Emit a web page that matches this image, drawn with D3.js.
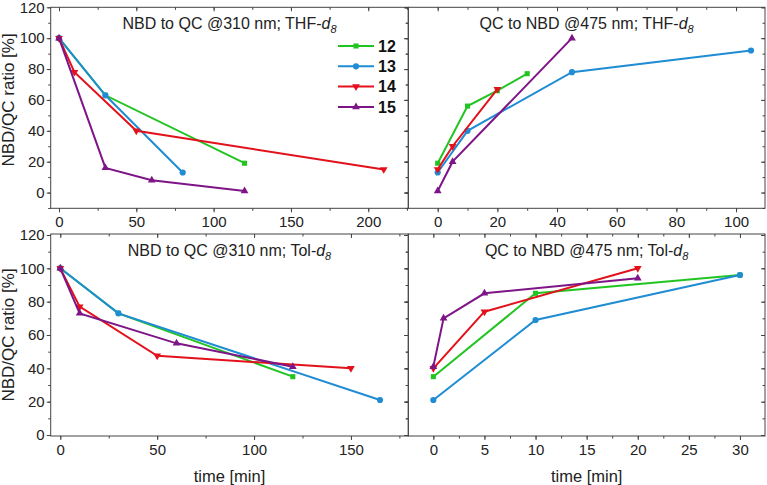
<!DOCTYPE html>
<html>
<head>
<meta charset="utf-8">
<script src="https://cdnjs.cloudflare.com/ajax/libs/d3/7.8.5/d3.min.js"></script>
<style>
  body { margin: 0; background: #fff; }
  svg { display: block; font-family: "Liberation Sans", Arial, sans-serif; }
  .tick text { font-size: 15px; fill: #222; }
  .tick line { stroke: #444; }
  .title, .axis_title { fill: #222; }
</style>
</head>
<body>
<svg id="chart" width="767" height="485"></svg>
<script>
// series names (compound numbers)
var seriesNames = ["12", "13", "14", "15"];

// NBD to QC @310 nm; THF-d8
var thf310Times  = [[0, 30, 120], [0, 30, 80], [0, 10, 50, 210], [0, 30, 60, 120]];
var thf310Values = [[100, 63, 19], [100, 63, 13], [100, 78, 40, 15], [100, 16, 8, 1]];
// QC to NBD @475 nm; THF-d8
var thf475Times  = [[0, 10, 20, 30], [0, 10, 45, 105], [0, 5, 20], [0, 5, 45]];
var thf475Values = [[19, 56, 66, 77], [13, 40, 78, 92], [15, 30, 67], [1, 20, 100]];
// NBD to QC @310 nm; Tol-d8
var tol310Times  = [[0, 30, 120], [0, 30, 165], [0, 10, 50, 150], [0, 10, 60, 120]];
var tol310Values = [[100, 73, 35], [100, 73, 21], [100, 77, 47.5, 40], [100, 73, 55, 41]];
// QC to NBD @475 nm; Tol-d8
var tol475Times  = [[0, 10, 30], [0, 10, 30], [0, 5, 20], [0, 1, 5, 20]];
var tol475Values = [[35, 85, 96], [21, 69, 96], [40, 74, 100], [41, 70, 85, 94]];

// tick labels
var thf310Ticks = [0, 50, 100, 150, 200];
var thf475Ticks = [0, 20, 40, 60, 80, 100];
var tol310Ticks = [0, 50, 100, 150];
var tol475Ticks = [0, 5, 10, 15, 20, 25, 30];
var yTicks = [0, 20, 40, 60, 80, 100, 120];

var colors = ["#22c422", "#1f8cd3", "#e2111b", "#7e1587"];
var shapes = [d3.symbolSquare, d3.symbolCircle, d3.symbolTriangle, d3.symbolTriangle];
var rotations = [0, 0, 180, 0];
var symSize = [26, 30, 26, 26];

var svg = d3.select("#chart");

// panel frames
var colX = [[50.7, 408.3], [408.3, 765]];
var rowY = [[7.3, 208.3], [234, 436]];

var panels = [
  {col: 0, row: 0, times: thf310Times, values: thf310Values, ticks: thf310Ticks, minor: 25,
   xdom: [-5.37, 225.9], ydom: [-10.2, 120], title: ["NBD to QC @310 nm; THF-", "d", "8"]},
  {col: 1, row: 0, times: thf475Times, values: thf475Values, ticks: thf475Ticks, minor: 10,
   xdom: [-9.85, 109.7], ydom: [-10.2, 120], title: ["QC to NBD @475 nm; THF-", "d", "8"]},
  {col: 0, row: 1, times: tol310Times, values: tol310Values, ticks: tol310Ticks, minor: 25,
   xdom: [-4.95, 179.6], ydom: [-0.6, 120.6], title: ["NBD to QC @310 nm; Tol-", "d", "8"]},
  {col: 1, row: 1, times: tol475Times, values: tol475Values, ticks: tol475Ticks, minor: 2.5,
   xdom: [-2.45, 32.45], ydom: [-0.6, 120.6], title: ["QC to NBD @475 nm; Tol-", "d", "8"]}
];

function minorTicks(dom, step) {
  return d3.range(Math.ceil(dom[0] / step) * step, dom[1] + 1e-9, step);
}

panels.forEach(function(p) {
  var x0 = colX[p.col][0], x1 = colX[p.col][1];
  var y0 = rowY[p.row][0], y1 = rowY[p.row][1];
  var x = d3.scaleLinear().domain(p.xdom).range([x0, x1]);
  var y = d3.scaleLinear().domain(p.ydom).range([y1, y0]);
  var xMinor = minorTicks(p.xdom, p.minor);
  var yMinor = minorTicks(p.ydom, 10);

  var g = svg.append("g");

  // bottom axis
  g.append("g").attr("transform", "translate(0," + y1 + ")")
    .call(d3.axisBottom(x).tickValues(xMinor).tickFormat("").tickSize(2.5).tickSizeOuter(0));
  g.append("g").attr("transform", "translate(0," + y1 + ")")
    .call(d3.axisBottom(x).tickValues(p.ticks).tickSize(4).tickPadding(4).tickSizeOuter(0));
  // top frame ticks (inward)
  g.append("g").attr("transform", "translate(0," + y0 + ")")
    .call(d3.axisTop(x).tickValues(xMinor).tickFormat("").tickSize(-2.5).tickSizeOuter(0));
  g.append("g").attr("transform", "translate(0," + y0 + ")")
    .call(d3.axisTop(x).tickValues(p.ticks).tickFormat("").tickSize(-4).tickSizeOuter(0));
  // left axis
  g.append("g").attr("transform", "translate(" + x0 + ",0)")
    .call(d3.axisLeft(y).tickValues(yMinor).tickFormat("").tickSize(2.5).tickSizeOuter(0));
  g.append("g").attr("transform", "translate(" + x0 + ",0)")
    .call(d3.axisLeft(y).tickValues(yTicks).tickSize(4).tickPadding(2).tickSizeOuter(0)
      .tickFormat(p.col == 0 ? d3.format("d") : ""));
  // right frame ticks (inward)
  g.append("g").attr("transform", "translate(" + x1 + ",0)")
    .call(d3.axisRight(y).tickValues(yMinor).tickFormat("").tickSize(-2.5).tickSizeOuter(0));
  g.append("g").attr("transform", "translate(" + x1 + ",0)")
    .call(d3.axisRight(y).tickValues(yTicks).tickFormat("").tickSize(-4).tickSizeOuter(0));

  g.selectAll(".domain").remove();

  g.append("rect")
    .attr("x", x0).attr("y", y0)
    .attr("width", x1 - x0).attr("height", y1 - y0)
    .attr("fill", "none").attr("stroke", "#444").attr("stroke-width", 1);

  // title
  var t = g.append("text").attr("class", "title")
    .attr("x", (x0 + x1) / 2).attr("y", y0 + 22)
    .attr("text-anchor", "middle").style("font-size", "16px");
  t.append("tspan").text(p.title[0]);
  t.append("tspan").style("font-style", "italic").text(p.title[1]);
  t.append("tspan").style("font-style", "italic").style("font-size", "11px")
    .attr("dy", 4).text(p.title[2]);

  // lines
  var line = d3.line().x(function(d) { return x(d[0]); }).y(function(d) { return y(d[1]); });
  p.times.forEach(function(ts, i) {
    var pts = ts.map(function(tv, j) { return [tv, p.values[i][j]]; });
    g.append("path").datum(pts)
      .attr("d", line)
      .attr("fill", "none")
      .attr("stroke", colors[i])
      .attr("stroke-width", 2);
    g.selectAll(null).data(pts).enter().append("path")
      .attr("d", d3.symbol().type(shapes[i]).size(symSize[i]))
      .attr("transform", function(d) {
        return "translate(" + x(d[0]) + "," + y(d[1]) + ")rotate(" + rotations[i] + ")";
      })
      .attr("fill", colors[i]);
  });

  // axis titles
  if (p.col == 0) {
    svg.append("text").attr("class", "axis_title")
      .attr("text-anchor", "middle")
      .attr("transform", "translate(14," + y(60) + ")rotate(-90)")
      .style("font-size", "17px")
      .text("NBD/QC ratio [%]");
  }
  if (p.row == 1) {
    svg.append("text").attr("class", "axis_title")
      .attr("text-anchor", "middle")
      .attr("x", (x0 + x1) / 2).attr("y", 482)
      .style("font-size", "16.5px")
      .text("time [min]");
  }
});

// legend
var legend = svg.append("g");
seriesNames.forEach(function(name, i) {
  var ly = 46 + i * 20.3;
  legend.append("line")
    .attr("x1", 338).attr("x2", 374).attr("y1", ly).attr("y2", ly)
    .attr("stroke", colors[i]).attr("stroke-width", 2);
  legend.append("path")
    .attr("d", d3.symbol().type(shapes[i]).size(symSize[i]))
    .attr("transform", "translate(356," + ly + ")rotate(" + rotations[i] + ")")
    .attr("fill", colors[i]);
  legend.append("text")
    .attr("x", 378).attr("y", ly).attr("dy", "0.36em")
    .style("font-size", "16px").style("font-weight", "bold").attr("fill", "#111")
    .text(name);
});
</script>
</body>
</html>
